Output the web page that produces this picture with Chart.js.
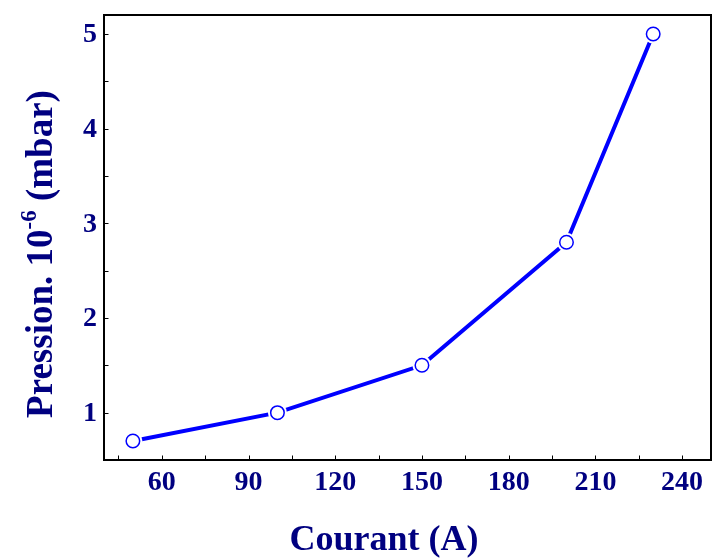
<!DOCTYPE html>
<html>
<head>
<meta charset="utf-8">
<script src="https://cdn.jsdelivr.net/npm/chart.js@4/dist/chart.umd.min.js"></script>
<style>
  html, body { margin: 0; padding: 0; background: #ffffff; overflow: hidden; }
  #wrap { width: 712px; height: 558px; }
  canvas { display: block; }
</style>
</head>
<body>
<div id="wrap"><canvas id="chart" width="712" height="558"></canvas></div>
<script>
// Pressure vs. current measurements
const currentA = [50, 100, 150, 200, 230];
const pressure = [0.7, 1.0, 1.5, 2.8, 5.0];

// Axis ticks
const xMajorTicks = [60, 90, 120, 150, 180, 210, 240];
const xMinorTicks = [45, 75, 105, 135, 165, 195, 225];
const yMajorTicks = [1, 2, 3, 4, 5];
const yMinorTicks = [1.5, 2.5, 3.5, 4.5];

const xTitle = 'Courant (A)';
const yTitleMain = 'Pression. 10';
const yTitleExp = '-6';
const yTitleUnit = ' (mbar)';

const NAVY = '#000080';
const LINE_BLUE = '#0000ff';
const SERIF = '"Liberation Serif", "Times New Roman", serif';
const TICK_FONT = 'bold 28px ' + SERIF;

const points = currentA.map((x, i) => ({ x: x, y: pressure[i] }));

// Frame around the plot area, inward tick marks and tick labels
const framePlugin = {
  id: 'frame',
  beforeDatasetsDraw(chart) {
    const { ctx, chartArea: a, scales } = chart;
    ctx.save();
    ctx.strokeStyle = '#000000';
    ctx.lineWidth = 1;
    const tl = 4.5;
    xMajorTicks.concat(xMinorTicks).forEach(v => {
      const px = Math.round(scales.x.getPixelForValue(v)) + 0.5;
      ctx.beginPath();
      ctx.moveTo(px, a.bottom);
      ctx.lineTo(px, a.bottom - tl);
      ctx.stroke();
    });
    yMajorTicks.concat(yMinorTicks).forEach(v => {
      const py = Math.round(scales.y.getPixelForValue(v)) + 0.5;
      ctx.beginPath();
      ctx.moveTo(a.left, py);
      ctx.lineTo(a.left + tl, py);
      ctx.stroke();
    });
    ctx.lineWidth = 2;
    ctx.strokeRect(a.left, a.top, a.right - a.left, a.bottom - a.top);

    ctx.fillStyle = NAVY;
    ctx.font = TICK_FONT;
    ctx.textBaseline = 'middle';
    ctx.textAlign = 'center';
    xMajorTicks.forEach(v => {
      ctx.fillText(String(v), scales.x.getPixelForValue(v), a.bottom + 23);
    });
    ctx.textAlign = 'right';
    yMajorTicks.forEach(v => {
      ctx.fillText(String(v), a.left - 7, scales.y.getPixelForValue(v) + 1);
    });
    ctx.restore();
  }
};

// Axis titles (the y title carries a superscript exponent)
const titlePlugin = {
  id: 'titles',
  afterDraw(chart) {
    const { ctx } = chart;
    ctx.save();
    ctx.fillStyle = NAVY;
    ctx.textBaseline = 'alphabetic';

    ctx.font = 'bold 36px ' + SERIF;
    ctx.textAlign = 'center';
    ctx.fillText(xTitle, 384, 550);

    const mainFont = 'bold 37px ' + SERIF;
    const expFont = 'bold 23px ' + SERIF;
    ctx.font = mainFont;
    const w1 = ctx.measureText(yTitleMain).width;
    const w3 = ctx.measureText(yTitleUnit).width;
    ctx.font = expFont;
    const w2 = ctx.measureText(yTitleExp).width;
    const total = w1 + w2 + w3;

    ctx.translate(52, 254);
    ctx.rotate(-Math.PI / 2);
    ctx.textAlign = 'left';
    let x0 = -total / 2;
    ctx.font = mainFont;
    ctx.fillText(yTitleMain, x0, 0);
    x0 += w1;
    ctx.font = expFont;
    ctx.fillText(yTitleExp, x0, -16);
    x0 += w2;
    ctx.font = mainFont;
    ctx.fillText(yTitleUnit, x0, 0);
    ctx.restore();
  }
};

new Chart(document.getElementById('chart'), {
  type: 'scatter',
  data: {
    datasets: [
      {
        // open circle markers
        data: points,
        showLine: false,
        pointRadius: 6.75,
        pointBorderWidth: 1.5,
        pointBackgroundColor: '#ffffff',
        pointBorderColor: LINE_BLUE,
        order: 0
      },
      {
        // connecting line, with a white halo under each marker
        data: points,
        showLine: true,
        borderColor: LINE_BLUE,
        borderWidth: 4,
        pointRadius: 9.5,
        pointBorderWidth: 0,
        pointBackgroundColor: '#ffffff',
        pointBorderColor: '#ffffff',
        order: 1
      }
    ]
  },
  options: {
    responsive: false,
    devicePixelRatio: 1,
    animation: false,
    events: [],
    layout: { autoPadding: false, padding: { top: 15, right: 1, left: 0, bottom: 0 } },
    plugins: {
      legend: { display: false },
      tooltip: { enabled: false }
    },
    scales: {
      x: {
        type: 'linear',
        min: 40,
        max: 250,
        afterFit: s => { s.height = 98; },
        grid: { display: false, drawTicks: false },
        border: { display: false },
        ticks: { display: false }
      },
      y: {
        type: 'linear',
        min: 0.5,
        max: 5.2,
        afterFit: s => { s.width = 104; },
        grid: { display: false, drawTicks: false },
        border: { display: false },
        ticks: { display: false }
      }
    }
  },
  plugins: [framePlugin, titlePlugin]
});
</script>
</body>
</html>
